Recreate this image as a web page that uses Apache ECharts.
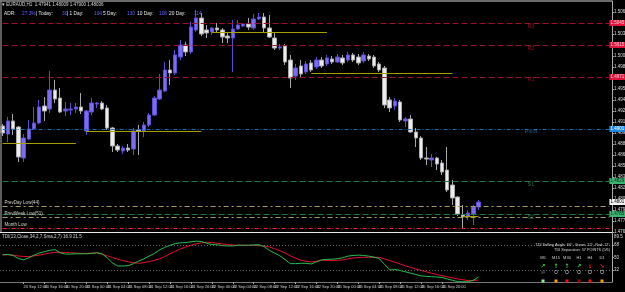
<!DOCTYPE html>
<html><head><meta charset="utf-8">
<script src="https://cdn.jsdelivr.net/npm/echarts@6/dist/echarts.min.js"></script>
<style>html,body{margin:0;padding:0;background:#000;overflow:hidden}#c{width:625px;height:292px}</style>
</head><body><div id="c"></div>
<script>
// ---------- DATA ----------
const symbolName = "EURAUD,H1";
const timeLabels = ["20 Sep 2017","20 Sep 12:00","20 Sep 16:00","20 Sep 20:00","21 Sep 00:00","21 Sep 04:00","21 Sep 08:00","21 Sep 12:00","21 Sep 16:00","21 Sep 20:00","22 Sep 00:00","22 Sep 04:00","22 Sep 08:00","22 Sep 12:00","22 Sep 16:00","22 Sep 20:00","25 Sep 00:00","25 Sep 04:00","25 Sep 08:00","25 Sep 12:00","25 Sep 16:00","25 Sep 20:00","26 Sep 00:00"];
const candlesPerLabel = 4;
const emptySlots = 25;
// [open, close, low, high]
const ohlc = [
[1.49045,1.48950,1.48909,1.49073],[1.48936,1.49114,1.48827,1.49168],[1.49114,1.49005,1.48923,1.49209],[1.49032,1.48623,1.48555,1.49045],
[1.48609,1.48882,1.48555,1.48936],[1.48868,1.49005,1.48855,1.49127],[1.49005,1.49086,1.48991,1.49305],[1.49086,1.49305,1.49073,1.49400],
[1.49318,1.49250,1.49114,1.49441],[1.49277,1.49536,1.49223,1.49795],[1.49536,1.49414,1.49359,1.49673],[1.49427,1.49236,1.49223,1.49564],
[1.49250,1.49277,1.49182,1.49373],[1.49264,1.49277,1.49195,1.49359],[1.49277,1.49305,1.49223,1.49359],[1.49305,1.49250,1.49209,1.49495],
[1.48977,1.49250,1.48923,1.49264],[1.49236,1.49359,1.49195,1.49427],[1.49345,1.49359,1.49291,1.49373],[1.49359,1.49277,1.49264,1.49386],
[1.49291,1.49018,1.48991,1.49332],[1.49018,1.48773,1.48691,1.49032],[1.48773,1.48718,1.48691,1.48800],[1.48705,1.48745,1.48664,1.48773],
[1.48745,1.48718,1.48691,1.48800],[1.48732,1.48977,1.48650,1.49018],[1.48991,1.48977,1.48650,1.49059],[1.48977,1.49059,1.48895,1.49100],
[1.49059,1.49195,1.49032,1.49223],[1.49195,1.49427,1.49182,1.49455],[1.49414,1.49536,1.49400,1.49755],[1.49523,1.49809,1.49509,1.49918],
[1.49809,1.49768,1.49605,1.49945],[1.49768,1.50014,1.49741,1.50082],[1.49986,1.50150,1.49945,1.50218],[1.50150,1.50055,1.50000,1.50191],
[1.50055,1.50395,1.50027,1.50464],[1.50355,1.50518,1.50327,1.50627],[1.50518,1.50300,1.50273,1.50586],[1.50355,1.50314,1.50245,1.50423],
[1.50327,1.50382,1.50286,1.50395],[1.50382,1.50355,1.50314,1.50450],[1.50355,1.50259,1.50177,1.50382],[1.50273,1.50245,1.50177,1.50314],
[1.50245,1.50368,1.49782,1.50491],[1.50368,1.50423,1.50355,1.50491],[1.50409,1.50436,1.50395,1.50450],[1.50436,1.50395,1.50355,1.50518],
[1.50382,1.50505,1.50355,1.50573],[1.50505,1.50532,1.50491,1.50586],[1.50532,1.50382,1.50327,1.50586],[1.50382,1.50259,1.50245,1.50559],
[1.50245,1.50109,1.50082,1.50314],[1.50109,1.50123,1.50082,1.50164],[1.50136,1.49918,1.49877,1.50164],[1.49945,1.49700,1.49564,1.50014],
[1.49727,1.49836,1.49673,1.49891],[1.49864,1.49755,1.49700,1.49945],[1.49782,1.49891,1.49755,1.49932],[1.49905,1.49809,1.49782,1.49945],
[1.49850,1.49945,1.49823,1.49986],[1.49945,1.49864,1.49836,1.49986],[1.49891,1.49973,1.49864,1.50014],[1.49959,1.49918,1.49891,1.50000],
[1.49918,1.49986,1.49905,1.50027],[1.49973,1.49905,1.49877,1.50014],[1.49945,1.50014,1.49918,1.50055],[1.50014,1.49945,1.49918,1.50041],
[1.49986,1.49905,1.49877,1.50027],[1.49932,1.50014,1.49905,1.50055],[1.50000,1.49959,1.49932,1.50027],[1.49986,1.49864,1.49836,1.50014],
[1.49891,1.49809,1.49782,1.49918],[1.49836,1.49332,1.49291,1.49864],[1.49400,1.49291,1.49236,1.49441],[1.49318,1.49386,1.49264,1.49427],
[1.49373,1.49127,1.49100,1.49400],[1.49114,1.49141,1.49032,1.49168],[1.49141,1.48964,1.48950,1.49195],[1.48964,1.48882,1.48759,1.49018],
[1.48882,1.48609,1.48582,1.48909],[1.48609,1.48595,1.48514,1.48759],[1.48582,1.48609,1.48486,1.48664],[1.48609,1.48527,1.48445,1.48623],
[1.48541,1.48418,1.48377,1.48582],[1.48445,1.48173,1.48145,1.48759],[1.48241,1.48064,1.47968,1.48309],[1.48077,1.47845,1.47818,1.48091],
[1.47832,1.47805,1.47655,1.47968],[1.47805,1.47859,1.47764,1.47900],[1.47845,1.47941,1.47695,1.47968],[1.47941,1.48009,1.47900,1.48036]
];
const tdiGreen = [54,54.5,53,48.5,46.5,49.5,53.5,56.5,58.5,60.5,
61.5,57,55,55,55.5,55.5,55.5,56,57,55.5,
49.5,42,37.5,37.5,38,41,44.5,48,52,56,
61,65,68,70.5,71.5,72,73,74,73.5,71,
69,68.8,67.5,67,67,68,68,68,68.5,68.8,
66,60.5,56.5,52.5,47,41,41,41.5,41.5,40.5,
43.5,46.5,47.3,47.5,48.3,49.5,52,53,53.5,53,
52,50.5,48.5,40,31.5,32.5,30.8,29,27,25,
23,22.3,21.8,21.3,20.8,18.5,16.5,14.5,14.4,14.4,
16.5,21.5];
const tdiRed = [53.7,54,53.5,52.2,51.6,51.3,52.3,53.5,55,56.5,
57.5,57.8,57.3,57,56.4,56.1,56.1,56.4,57,55,
52.5,50,47.5,45.5,43.8,42.5,41.5,42.5,43.8,45.8,
48,51.5,55.5,59,62.5,65.5,68,70,71.5,72.5,
72,71,70,69,68.3,68,67.9,67.9,67.9,67.3,
66.9,65.5,63,60,56.5,52.5,49,46,44.5,43.4,
44.5,46.3,45.5,45.4,46,46.5,48,49.2,50,50.3,
50.3,50.3,50.3,48,45.5,43,40.5,37.8,35.5,33,
31,29,26.8,25,23.3,21.5,20,18.5,17.2,16,
16.3,16.9];
const priceMin = 1.4760, priceMax = 1.5075, priceStep = 0.0015;
const tdiMin = 14, tdiMax = 86, tdiStep = 18;
const tdiLevels = [32, 68];
const tdiTopValue = "89.5";
const pivotNames = ["R3","R2","R1","Pivot","S1","S2"];
const pivotPrices = [1.50450,1.50150,1.49714,1.49005,1.48295,1.47845];
const pivotKinds = ["r","r","r","p","s","s"];
const rangeNames = ["PrevDay Low(44)","PrevWeek Low(51)","Month Low"];
const rangePrices = [1.47955,1.47805,1.47655];
const rangeKinds = ["olive","olive","red"];
const segStart = [0,16,40,59,88];
const segEnd = [14,38,62,86,91];
const segPrice = [1.48814,1.48977,1.50327,1.49768,1.47818];
const adrTexts = ["ADR:","27.3%","| Today:","30","| 1 Day:","104","5 Day:","130","10 Day:","108","20 Day:","114"];
const tdiTitle = "TDI(13,Close,34,2,7,Sma,2,7) 16.9 21.5";
const tdiInfo = ["TDI Selling Angle: 60°, Green: 22°, Red: 17°","TDI Separation: 57 POINTS (5/6)"];
const tfNames = ["M5","M15","M30","H1","H4","D1"];
const tfArrows = ["↗","↑","↑","↗","↓","↘"];
const tfMarks = ["x²","O","O","O","O","O"];
const tfState = ["up","warn","down","weak","down","warn"];

// ---------- STYLE / LAYOUT ----------
const FF = "Liberation Sans, Arial, sans-serif";
const cats = Array.from({length: ohlc.length + emptySlots}, (_, i) => String(i));
const lvl = {
  r: {line:"#9c1230", dash:[6,3], box:"#e0143c", txt:"#ffd0d8", name:"#a8102e"},
  p: {line:"#1f6fb0", dash:[4,2,1,2], box:"#1e88e5", txt:"#ffffff", name:"#2a78c0"},
  s: {line:"#1f7a48", dash:[6,3], box:"#3cb371", txt:"#0b2a18", name:"#2a8a50"}
};
const rng = {olive:{line:"#a8a060", dash:[5,3,2,3]}, red:{line:"#ff1e3c", dash:[4,2,1,2]}};
const adrX = [4,22,36,62,67,94,103,127,137,159,169,194];
const tfX = [543,556,567,579,590,602];
const stateColor = {up:"#90ee90", warn:"#ff9a00", down:"#ee1111", weak:"#a00000"};
const arrowColor = ["#33cc44","#33cc44","#33cc44","#33cc44","#ee2222","#ee2222"];

const last = ohlc[ohlc.length-1];
const lastIdx = ohlc.length - 1 + emptySlots;
const boxLabel = (txt, bg, fg) => ({show:true, position:'end', distance:0, formatter:txt, backgroundColor:bg, color:fg,
  fontSize:4.5, fontFamily:FF, padding:[1,1,0,1]});

const markData = [];
pivotPrices.forEach((p,k)=>{
  const s = lvl[pivotKinds[k]];
  markData.push([{coord:[0,p], lineStyle:{color:s.line, type:s.dash, width:1}, label:boxLabel(p.toFixed(4), s.box, s.txt)},
                 {coord:[lastIdx,p]}]);
});
rangePrices.forEach((p,k)=>{
  const s = rng[rangeKinds[k]];
  markData.push([{coord:[0,p], lineStyle:{color:s.line, type:s.dash, width:1},
    label:{show:true, position:'insideStartTop', distance:[2,1], formatter:rangeNames[k], color:"#d8d8c8", fontSize:4.5, fontFamily:FF}},
    {coord:[lastIdx,p]}]);
});
segPrice.forEach((p,k)=>{
  markData.push([{coord:[segStart[k], p], lineStyle:{color:"#a8a000", type:'solid', width:1}, label:{show:false}},
                 {coord:[segEnd[k], p]}]);
});
markData.push([{coord:[0,last[1]], lineStyle:{color:'rgba(0,0,0,0)', width:1}, label:boxLabel(last[1].toFixed(4), "#f2f2f2", "#000")},
               {coord:[lastIdx,last[1]]}]);

const graphic = [
  {type:'line', shape:{x1:0,y1:1,x2:612,y2:1}, style:{stroke:'#6a6a6a', lineWidth:2}, z:100},
  {type:'line', shape:{x1:1,y1:0,x2:1,y2:232}, style:{stroke:'#7a7a7a', lineWidth:1.5}, z:100},
  {type:'text', x:2, y:5, style:{text:"▾ "+symbolName+"  "+last.map(v=>v.toFixed(5)).join(" "), fill:'#d8d8d8', fontSize:4.5, fontFamily:FF, verticalAlign:'middle'}, z:100},
  {type:'text', x:2, y:237, style:{text:tdiTitle, fill:'#d8d8d8', fontSize:4.5, fontFamily:FF, verticalAlign:'middle'}, z:100},
  {type:'text', x:614, y:237, style:{text:tdiTopValue, fill:'#d8d8d8', fontSize:4.5, fontFamily:FF, verticalAlign:'middle'}, z:100}
];
adrTexts.forEach((t,k)=>{
  graphic.push({type:'text', x:adrX[k], y:14, style:{text:t, fill:(k%2===1)?'#6464ff':'#e6e6e6', fontSize:4.8, fontFamily:FF, verticalAlign:'middle'}, z:100});
});
tdiInfo.forEach((t,k)=>{
  graphic.push({type:'text', x:610, y:245+k*4.5, style:{text:t, fill:'#d8d8d8', fontSize:3.8, fontFamily:FF, align:'right', verticalAlign:'middle'}, z:100});
});
tfNames.forEach((t,k)=>{
  graphic.push({type:'text', x:tfX[k], y:258, style:{text:t, fill:'#cfcfcf', fontSize:4, fontFamily:FF, align:'center', verticalAlign:'middle'}, z:100});
  graphic.push({type:'text', x:tfX[k], y:266, style:{text:tfArrows[k], fill:arrowColor[k], fontSize:6, fontFamily:"DejaVu Sans", fontWeight:'bold', align:'center', verticalAlign:'middle'}, z:100});
  graphic.push({type:'text', x:tfX[k], y:273, style:{text:tfMarks[k], fill:k===0?'#8a8a8a':'#e0e0e0', fontSize:4.5, fontFamily:FF, align:'center', verticalAlign:'middle'}, z:100});
  graphic.push({type:'rect', shape:{x:tfX[k]-1.5, y:279.5, width:3, height:3}, style:{fill:stateColor[tfState[k]]}, z:100});
});

const chart = echarts.init(document.getElementById('c'), null, {renderer:'canvas'});
chart.setOption({
  animation:false,
  backgroundColor:'#000',
  grid:[
    {left:0, right:13, top:1, height:231, containLabel:false, outerBoundsMode:'none'},
    {left:0, right:13, top:233, height:49, containLabel:false, outerBoundsMode:'none'}
  ],
  xAxis:[
    {type:'category', gridIndex:0, data:cats, boundaryGap:true,
     axisLine:{show:true, lineStyle:{color:'#e8e8e8', width:1}}, axisTick:{show:false}, axisLabel:{show:false}, splitLine:{show:false}},
    {type:'category', gridIndex:1, data:cats, boundaryGap:true,
     axisLine:{show:true, lineStyle:{color:'#777', width:1}},
     axisTick:{show:true, length:2, alignWithLabel:true, lineStyle:{color:'#aaa'},
       interval:(i)=> i % candlesPerLabel === 0 && i/candlesPerLabel < timeLabels.length},
     axisLabel:{show:true, fontSize:4, fontFamily:FF, color:'#cfcfcf', align:'left', margin:3, hideOverlap:false,
       interval:(i)=> i % candlesPerLabel === 0 && i/candlesPerLabel < timeLabels.length,
       formatter:(v,i)=> timeLabels[i/candlesPerLabel] || ''},
     splitLine:{show:false}}
  ],
  yAxis:[
    {type:'value', gridIndex:0, position:'right', min:priceMin, max:priceMax, interval:priceStep,
     axisLine:{show:true, lineStyle:{color:'#aaa'}}, axisTick:{show:true, length:2, lineStyle:{color:'#aaa'}},
     axisLabel:{show:true, fontSize:4.5, fontFamily:FF, color:'#dcdcdc', margin:2, showMaxLabel:false, showMinLabel:true,
       formatter:(v)=>v.toFixed(4)},
     splitLine:{show:false}},
    {type:'value', gridIndex:1, position:'right', min:tdiMin, max:tdiMax, interval:tdiStep,
     axisLine:{show:true, lineStyle:{color:'#aaa'}}, axisTick:{show:true, length:2, lineStyle:{color:'#aaa'}},
     axisLabel:{show:true, fontSize:4.5, fontFamily:FF, color:'#dcdcdc', margin:2, showMaxLabel:false, showMinLabel:false},
     splitLine:{show:false}}
  ],
  graphic: graphic,
  series:[
    {type:'line', xAxisIndex:0, yAxisIndex:0, data:[], silent:true, z:1,
     markLine:{silent:true, symbol:['none','none'], animation:false, data:markData}},
    {type:'candlestick', xAxisIndex:0, yAxisIndex:0, data:ohlc, barWidth:4, z:3,
     itemStyle:{color:'#7b6cf2', color0:'#ececec', borderColor:'#5a4ed6', borderColor0:'#a8a8a8', borderWidth:1}},
    {type:'scatter', xAxisIndex:0, yAxisIndex:0, symbolSize:0, silent:true,
     data: pivotPrices.map((p,k)=>({value:[101,p], label:{color:lvl[pivotKinds[k]].name}})),
     label:{show:true, position:'bottom', distance:0, fontSize:5.5, fontFamily:FF, formatter:(p)=>pivotNames[p.dataIndex]}},
    {type:'line', xAxisIndex:1, yAxisIndex:1, data:tdiGreen, showSymbol:false, lineStyle:{color:'#22c04a', width:1}, z:3,
     markLine:{silent:true, symbol:['none','none'], label:{show:false}, lineStyle:{color:'#6a6a6a', type:[1,2], width:1},
       data: tdiLevels.map(v=>({yAxis:v}))}},
    {type:'line', xAxisIndex:1, yAxisIndex:1, data:tdiRed, showSymbol:false, lineStyle:{color:'#e8102e', width:1}, z:2}
  ]
});
</script>
</body></html>
